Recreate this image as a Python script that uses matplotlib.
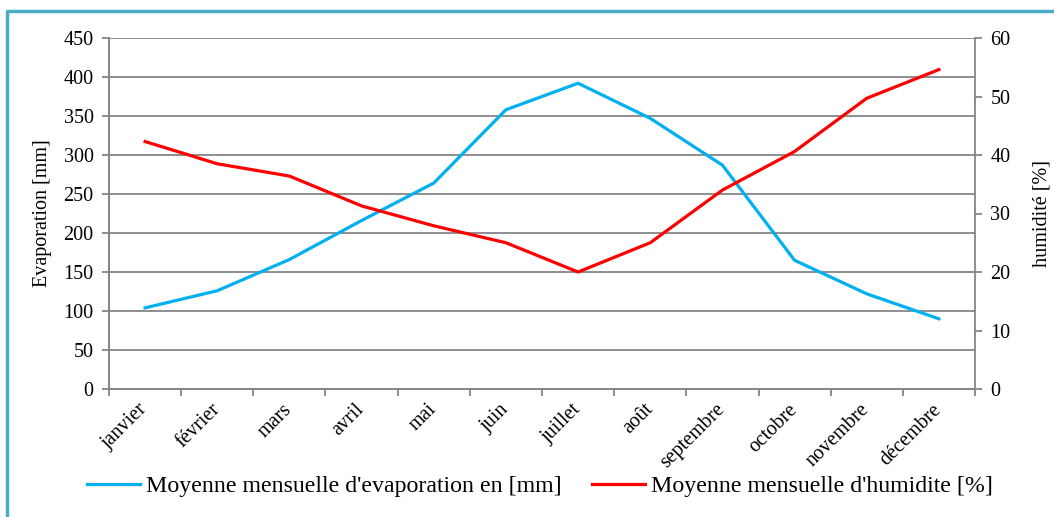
import matplotlib
matplotlib.use("Agg")
import matplotlib.pyplot as plt
import matplotlib.transforms as mtransforms
from matplotlib.lines import Line2D
import numpy as np

months = ["janvier", "février", "mars", "avril", "mai", "juin", "juillet",
          "août", "septembre", "octobre", "novembre", "décembre"]
evaporation = [104, 126, 166, 216, 264, 358, 392, 347, 287, 165, 122, 90]
humidity = [42.3, 38.5, 36.4, 31.3, 27.9, 25.0, 20.0, 25.0, 34.0, 40.6, 49.7, 54.6]

left_ticks = list(range(0, 451, 50))
right_ticks = list(range(0, 61, 10))

plt.rcParams['font.family'] = ['Liberation Serif', 'DejaVu Serif']
FS = 14.5
GRID = "#868686"
BLUE = "#00B0F0"
RED = "#FF0000"

W, H = 1054, 517
fig = plt.figure(figsize=(W / 100, H / 100), dpi=100)
ax = fig.add_axes([109 / W, 1 - 389 / H, (975 - 109) / W, (389 - 38) / H])
ax2 = ax.twinx()

x = np.arange(len(months))
l1, = ax.plot(x, evaporation, color=BLUE, lw=2.3, solid_joinstyle='round',
              label="Moyenne mensuelle d'evaporation en [mm]", zorder=3)
l2, = ax2.plot(x, humidity, color=RED, lw=2.3, solid_joinstyle='round',
               label="Moyenne mensuelle d'humidite [%]", zorder=3)

ax.set_xlim(-0.5, len(months) - 0.5)
ax.set_ylim(0, 450)
ax2.set_ylim(0, 60)
ax.set_yticks(left_ticks)
ax2.set_yticks(right_ticks)
ax.yaxis.grid(True, color=GRID, lw=1.3)
ax.set_axisbelow(True)

ax.set_xticks(x)
ax.set_xticks(np.arange(-0.5, len(months), 1), minor=True)
ax.tick_params(axis='x', which='major', length=0, pad=8)
ax.tick_params(axis='x', which='minor', length=5, color=GRID, width=1.3, direction='out')
ax.tick_params(axis='y', labelsize=FS, length=5, color=GRID, width=1.3, pad=6)
ax2.tick_params(axis='y', labelsize=FS, length=5, color=GRID, width=1.3, pad=6)
ax.set_xticklabels(months, rotation=45, ha='right', va='top',
                   rotation_mode='anchor', fontsize=FS)
offset = mtransforms.ScaledTranslation(-7 / 100, 0, fig.dpi_scale_trans)
for lab in ax.get_xticklabels():
    lab.set_transform(lab.get_transform() + offset)

for a in (ax, ax2):
    a.spines['top'].set_visible(False)
    for s in ('left', 'right', 'bottom'):
        a.spines[s].set_color(GRID)
        a.spines[s].set_linewidth(1.3)
ax.spines['right'].set_visible(False)

ax.set_ylabel("Evaporation [mm]", fontsize=FS, labelpad=8)
ax2.set_ylabel("humidité [%]", fontsize=FS, labelpad=16)

fig.legend(handles=[l1, l2], loc='center', bbox_to_anchor=(540 / W, 1 - 486 / H),
           ncol=2, frameon=False, fontsize=17.2, handlelength=2.2,
           handletextpad=0.25, columnspacing=1.3, borderaxespad=0)

# outer frame
bc = "#4BACC6"
fig.add_artist(Line2D([7 / W, 7 / W, 1.0], [0, 1 - 11 / H, 1 - 11 / H],
                      transform=fig.transFigure, color=bc, lw=2.5))

fig.savefig("out.png", dpi=100)
